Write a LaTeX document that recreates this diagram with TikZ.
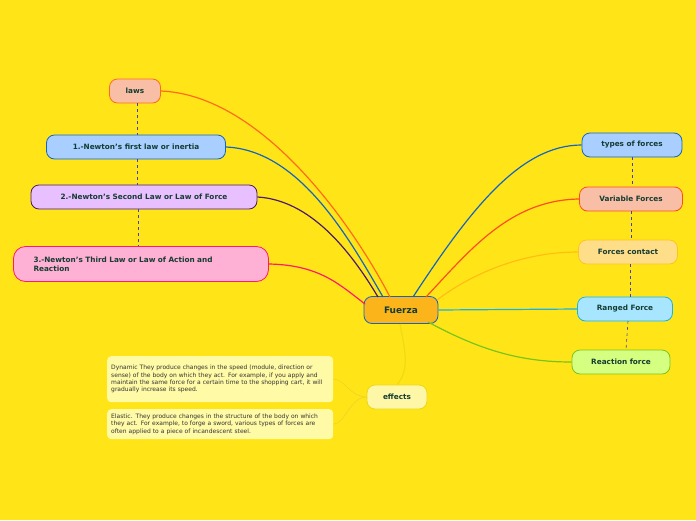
\documentclass[tikz,border=0pt]{standalone}
\usepackage{fontspec}
\setmainfont{DejaVu Sans}
\usepackage[none]{hyphenat}
\begin{document}
\begin{tikzpicture}[x=1pt,y=-1pt,
  topic/.style={draw,rounded corners=8pt,line width=0.8pt,font=\bfseries\fontsize{7.3}{8.8}\selectfont,inner sep=0pt,anchor=center},
  note/.style={fill=yellow!35!white,rounded corners=4pt,font=\fontsize{6}{7.4}\selectfont,text=black!80,align=left,inner xsep=4pt,anchor=north west,text width=218pt},
  link/.style={line width=1.2pt},
  dashline/.style={dashed,draw=blue!50!gray,line width=0.6pt}]
\fill[fill={rgb,255:red,255;green,229;blue,23}] (0,0) rectangle (696,520);
\useasboundingbox (0,0) rectangle (696,520);
\definecolor{ttxt}{RGB}{20,60,50}
\tikzset{topic/.append style={text=ttxt}}
% nodes
\node[topic,minimum width=51pt,minimum height=24pt,fill={rgb,255:red,249;green,191;blue,166},draw={rgb,255:red,255;green,107;blue,26}] (laws) at (135,91) {laws};
\node[topic,minimum width=179pt,minimum height=24pt,fill={rgb,255:red,168;green,207;blue,255},draw={rgb,255:red,21;green,101;blue,192}] (n1) at (136,147) {1.-Newton's first law or inertia};
\node[topic,minimum width=226pt,minimum height=24pt,fill={rgb,255:red,232;green,191;blue,255},draw={rgb,255:red,74;green,26;blue,107}] (n2) at (144,197) {2.-Newton's Second Law or Law of Force};
\node[topic,minimum width=255pt,minimum height=35pt,fill={rgb,255:red,255;green,176;blue,213},draw={rgb,255:red,255;green,26;blue,107},align=left,text width=215pt,rounded corners=12pt] (n3) at (141,264) {3.-Newton's Third Law or Law of Action and\\Reaction};
\node[topic,minimum width=74pt,minimum height=27pt,fill={rgb,255:red,251;green,180;blue,26},draw={rgb,255:red,21;green,101;blue,192},font=\bfseries\fontsize{9}{10}\selectfont] (F) at (401,310) {Fuerza};
\node[topic,minimum width=100pt,minimum height=24pt,fill={rgb,255:red,168;green,207;blue,255},draw={rgb,255:red,21;green,101;blue,192}] (t) at (632,145) {types of forces};
\node[topic,minimum width=103pt,minimum height=24pt,fill={rgb,255:red,249;green,191;blue,166},draw={rgb,255:red,255;green,77;blue,26}] (v) at (631,199) {Variable Forces};
\node[topic,minimum width=99pt,minimum height=24pt,fill={rgb,255:red,255;green,222;blue,138},draw={rgb,255:red,255;green,196;blue,26}] (c) at (628,252) {Forces contact};
\node[topic,minimum width=95pt,minimum height=24pt,fill={rgb,255:red,168;green,230;blue,255},draw={rgb,255:red,26;green,178;blue,230}] (r) at (625,309) {Ranged Force};
\node[topic,minimum width=98pt,minimum height=24pt,fill={rgb,255:red,212;green,255;blue,128},draw={rgb,255:red,122;green,196;blue,26}] (re) at (621,362) {Reaction force};
\node[topic,minimum width=60pt,minimum height=24pt,fill={rgb,255:red,255;green,247;blue,168},draw={rgb,255:red,235;green,215;blue,20}] (e) at (397,397) {effects};
\node[note,minimum height=46pt] (d) at (107,356) {Dynamic They produce changes in the speed (module, direction or sense) of the body on which they act. For example, if you apply and maintain the same force for a certain time to the shopping cart, it will gradually increase its speed.};
\node[note,minimum height=30pt] (el) at (107,409) {Elastic. They produce changes in the structure of the body on which they act. For example, to forge a sword, various types of forces are often applied to a piece of incandescent steel.};
% dashed
\draw[dashline] (137,103) -- (137,135); \draw[dashline] (137,159) -- (137,185); \draw[dashline] (138,209) -- (138,246);
\draw[dashline] (632,157) -- (632,187); \draw[dashline] (631,211) -- (631,240); \draw[dashline] (630,264) -- (630,297); \draw[dashline] (628,321) -- (626,350);
% links
\draw[link,draw={rgb,255:red,255;green,107;blue,26}] (laws.east) .. controls (260,95) and (350,220) .. (390,297);
\draw[link,draw={rgb,255:red,21;green,101;blue,192}] (n1.east) .. controls (300,150) and (350,240) .. (383,297);
\draw[link,draw={rgb,255:red,74;green,26;blue,107}] (n2.east) .. controls (310,200) and (350,250) .. (378,297);
\draw[link,draw={rgb,255:red,255;green,26;blue,107}] (n3.east) .. controls (320,265) and (340,285) .. (365,304);
\draw[link,draw={rgb,255:red,21;green,101;blue,192}] (t.west) .. controls (520,145) and (470,210) .. (413,297);
\draw[link,draw={rgb,255:red,255;green,77;blue,26}] (v.west) .. controls (510,200) and (470,250) .. (426,297);
\draw[link,draw={rgb,255:red,255;green,190;blue,20}] (c.west) .. controls (520,252) and (470,275) .. (437,300);
\draw[link,draw={rgb,255:red,26;green,178;blue,230}] (F.east) -- (r.west);
\draw[link,draw={rgb,255:red,122;green,196;blue,26}] (428,322) .. controls (480,350) and (520,362) .. (re.west);
\draw[link,draw={rgb,255:red,240;green,218;blue,20}] (400,324) .. controls (405,350) and (410,370) .. (e.north);
\draw[line width=0.6pt,draw={rgb,255:red,240;green,210;blue,40}] (e.west) .. controls (350,397) and (345,379) .. (d.east);
\draw[line width=0.6pt,draw={rgb,255:red,240;green,210;blue,40}] (e.west) .. controls (350,397) and (345,424) .. (el.east);
\end{tikzpicture}
\end{document}
